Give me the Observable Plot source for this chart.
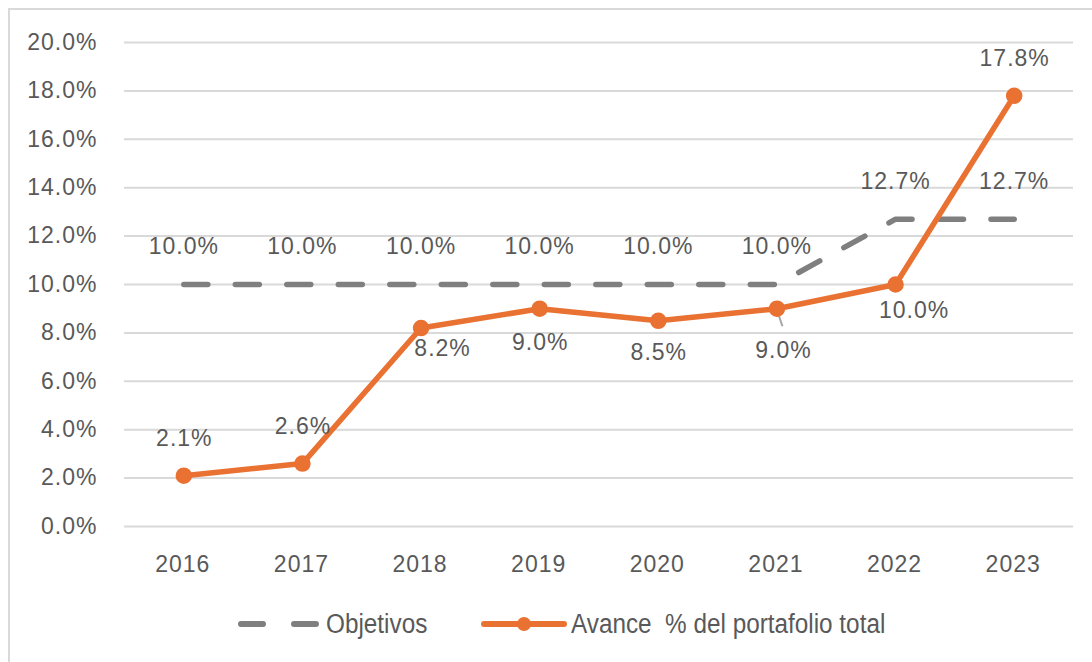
<!DOCTYPE html>
<html><head><meta charset="utf-8">
<script src="https://cdn.jsdelivr.net/npm/d3@7"></script>
<script src="https://cdn.jsdelivr.net/npm/@observablehq/plot@0.6"></script>
<style>
body{margin:0;background:#fff;font-family:"Liberation Sans",Arial,sans-serif;}
#wrap{position:relative;width:1092px;height:662px;overflow:hidden;background:#fff}
#border{position:absolute;left:8px;top:8px;width:1200px;height:800px;border-left:2px solid #d9d9d9;border-top:2px solid #d9d9d9;pointer-events:none}
#chart{position:absolute;left:0;top:0}
#legend{position:absolute;top:604px;left:0;height:40px;width:1092px;color:#595959;font-family:"Liberation Sans",Arial,sans-serif;font-size:27px}
#legend .item{position:absolute;top:0;height:40px;display:flex;align-items:center;white-space:pre}
#legend .item span{display:inline-block;transform:scaleX(0.9);transform-origin:left center}
#legend svg{display:block}
</style>
</head><body>
<div id="wrap"><div id="chart"></div><div id="legend"></div><div id="border"></div></div>
<script>
const years = ["2016","2017","2018","2019","2020","2021","2022","2023"];
const objetivos = [10.0, 10.0, 10.0, 10.0, 10.0, 10.0, 12.7, 12.7];
const avance = [2.1, 2.6, 8.2, 9.0, 8.5, 9.0, 10.0, 17.8];
const yTicks = [0, 2, 4, 6, 8, 10, 12, 14, 16, 18, 20];
const seriesNames = ["Objetivos", "Avance  % del portafolio total"];

const GRAY = "#7f7f7f", ORANGE = "#E97132", TXT = "#595959";
const fmt = d => d.toFixed(1) + "%";

const objData = years.map((y, i) => ({year: y, value: objetivos[i]}));
const avData = years.map((y, i) => ({year: y, value: avance[i]}));

// label placement (dx, dy in px) for the Avance series
const avPlace = [[0,-37],[0,-37],[21,21],[0,34],[0,32],[6,42],[18,26],[0,-37]];
const avLabels = avData.map((d, i) => ({...d, dx: avPlace[i][0], dy: avPlace[i][1]}));

const labelMarks = avLabels.map(d => Plot.text([d], {
  x: "year", y: "value", text: d => fmt(d.value), dx: d.dx + 0.5, dy: d.dy,
  fill: TXT, fontSize: 23, letterSpacing: 1
}));

// small leader line for the 2021 label
const leader = (index, scales) => {
  const i = years.indexOf("2021");
  const x = scales.x(years[i]), y = scales.y(avance[i]);
  const l = document.createElementNS("http://www.w3.org/2000/svg", "line");
  l.setAttribute("x1", x + 1); l.setAttribute("y1", y + 3);
  l.setAttribute("x2", x + 6); l.setAttribute("y2", y + 18);
  l.setAttribute("stroke", "#a6a6a6"); l.setAttribute("stroke-width", 2);
  const g = document.createElementNS("http://www.w3.org/2000/svg", "g");
  g.appendChild(l);
  return g;
};

const chart = Plot.plot({
  width: 1092, height: 600,
  marginTop: 42, marginBottom: 74, marginLeft: 124, marginRight: 19,
  style: {fontFamily: "'Liberation Sans', Arial, sans-serif", fontSize: "23px", color: TXT, background: "transparent", letterSpacing: "1px"},
  x: {type: "point", domain: years, padding: 0.5, round: false, label: null},
  y: {domain: [0, 20], label: null},
  marks: [
    Plot.gridY(yTicks, {stroke: "#d9d9d9", strokeOpacity: 1, strokeWidth: 2}),
    Plot.axisY(yTicks, {tickSize: 0, tickPadding: 27, tickFormat: fmt, fill: TXT, fontSize: 23, label: null}),
    Plot.axisX(years, {tickSize: 0, tickPadding: 29, dx: -1, fill: TXT, fontSize: 23, label: null}),
    Plot.line(objData, {x: "year", y: "value", stroke: GRAY, strokeWidth: 5.5, strokeDasharray: "24,27.5", strokeLinecap: "round", strokeLinejoin: "round"}),
    Plot.text(objData, {x: "year", y: "value", text: d => fmt(d.value), dy: -38, fill: TXT, fontSize: 23, letterSpacing: 1}),
    leader,
    Plot.line(avData, {x: "year", y: "value", stroke: ORANGE, strokeWidth: 5.5, strokeLinejoin: "round"}),
    Plot.dot(avData, {x: "year", y: "value", r: 7.5, fill: ORANGE, stroke: ORANGE}),
    ...labelMarks
  ]
});
document.getElementById("chart").appendChild(chart);

// legend
const legend = document.getElementById("legend");
function item(sym, name, left) {
  const it = document.createElement("div");
  it.className = "item";
  it.style.left = left + "px";
  it.innerHTML = sym + `<span style="margin-left:4px">${name}</span>`;
  legend.appendChild(it);
}
item(`<svg width="86" height="20"><line x1="5" y1="10" x2="81" y2="10" stroke="${GRAY}" stroke-width="6" stroke-linecap="round" stroke-dasharray="22,31"/></svg>`, seriesNames[0], 236);
item(`<svg width="86" height="20"><line x1="3" y1="10" x2="83" y2="10" stroke="${ORANGE}" stroke-width="6" stroke-linecap="round"/><circle cx="43" cy="10" r="7" fill="${ORANGE}"/></svg>`, seriesNames[1], 481);
</script>
</body></html>
